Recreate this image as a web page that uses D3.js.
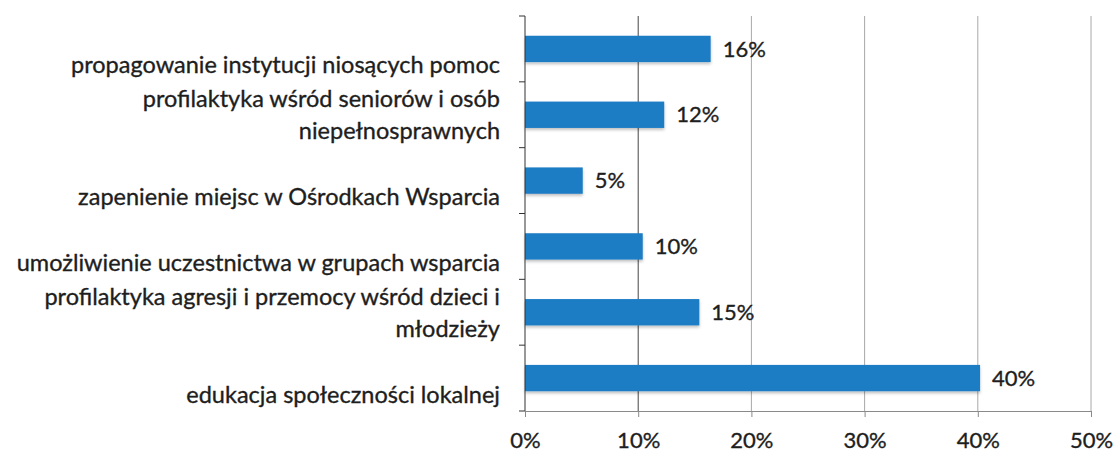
<!DOCTYPE html>
<html>
<head>
<meta charset="utf-8">
<script src="https://cdn.jsdelivr.net/npm/d3@7"></script>
<style>
  html, body { margin: 0; padding: 0; background: #fff; }
  svg { display: block; }
  text { font-family: Lato, "Open Sans", sans-serif; fill: #1e1e1e; stroke: #1e1e1e; stroke-width: 0.35px; }
</style>
</head>
<body>
<svg id="chart" width="1117" height="453"></svg>
<script>
// ---- data ----
const categories = [
  ["", "propagowanie instytucji niosących pomoc"],
  ["profilaktyka wśród seniorów i osób", "niepełnosprawnych"],
  ["", "zapenienie miejsc w Ośrodkach Wsparcia"],
  ["", "umożliwienie uczestnictwa w grupach wsparcia"],
  ["profilaktyka agresji i przemocy wśród dzieci i", "młodzieży"],
  ["", "edukacja społeczności lokalnej"]
];
const values = [16.4, 12.3, 5.1, 10.4, 15.4, 40.2];
const valueLabels = ["16%", "12%", "5%", "10%", "15%", "40%"];
const xTicks = [0, 10, 20, 30, 40, 50];
const xTickLabels = ["0%", "10%", "20%", "30%", "40%", "50%"];

// ---- layout ----
const W = 1117, H = 453;
const margin = { left: 525, right: 26, top: 16, bottom: 42 };
const innerW = W - margin.left - margin.right;
const innerH = H - margin.top - margin.bottom;

const svg = d3.select("#chart");
const g = svg.append("g").attr("transform", `translate(${margin.left},${margin.top})`);

const x = d3.scaleLinear().domain([0, 50]).range([0, innerW]);
const idx = categories.map((d, i) => i);
const y = d3.scaleBand().domain(idx).range([0, innerH]).paddingInner(0.6).paddingOuter(0.3);
const yTicks = d3.scaleLinear().domain([0, categories.length]).range([0, innerH]);

const defs = svg.append("defs");
const f = defs.append("filter").attr("id", "shadow").attr("x", "-5%").attr("y", "-30%").attr("width", "110%").attr("height", "170%");
f.append("feDropShadow").attr("dx", 0).attr("dy", 2).attr("stdDeviation", 1.5).attr("flood-color", "#000").attr("flood-opacity", 0.25);

// gridlines
g.append("g").selectAll("line").data(xTicks.slice(1)).join("line")
  .attr("x1", d => x(d)).attr("x2", d => x(d))
  .attr("y1", 0).attr("y2", innerH)
  .attr("stroke", d => d === 10 ? "#444" : "#a8a8a8")
  .attr("stroke-width", 1);

// x axis
const xAxis = g.append("g").attr("transform", `translate(0,${innerH})`)
  .call(d3.axisBottom(x).tickValues(xTicks).tickFormat((d, i) => xTickLabels[i]).tickSize(6).tickPadding(15));
xAxis.select(".domain").attr("stroke", "#8a8a8a");
xAxis.selectAll(".tick line").attr("stroke", "#8a8a8a");
xAxis.selectAll(".tick text").style("font-size", "22px").style("font-family", "Lato, sans-serif").attr("fill", "#1e1e1e");

// bars
g.append("g").selectAll("rect").data(values).join("rect")
  .attr("x", 0)
  .attr("y", (d, i) => y(i))
  .attr("width", d => x(d))
  .attr("height", y.bandwidth())
  .attr("fill", "#1b7bc4")
  .attr("filter", "url(#shadow)");

// y axis line + ticks
const yAxisG = g.append("g");
yAxisG.append("line").attr("x1", 0).attr("x2", 0).attr("y1", 0).attr("y2", innerH).attr("stroke", "#333");
yAxisG.selectAll("line.tk").data(d3.range(categories.length + 1)).join("line")
  .attr("class", "tk")
  .attr("x1", -6).attr("x2", 0)
  .attr("y1", d => yTicks(d)).attr("y2", d => yTicks(d))
  .attr("stroke", "#333");

// category labels
const lineH = 32;
const lab = g.append("g").selectAll("text").data(categories).join("text")
  .attr("text-anchor", "end")
  .style("font-size", "23.5px")
  .attr("x", -25)
  .attr("y", (d, i) => y(i) + y.bandwidth() / 2);
lab.each(function(lines, i) {
  const t = d3.select(this);
  const c = y(i) + y.bandwidth() / 2 + 1;
  lines.forEach((ln, k) => {
    if (!ln) return;
    t.append("tspan").attr("x", -25)
      .attr("y", c + (k - (lines.length - 1) / 2) * lineH)
      .attr("dy", "0.32em")
      .text(ln);
  });
});

// value labels
g.append("g").selectAll("text").data(values).join("text")
  .attr("x", d => x(d) + 12)
  .attr("y", (d, i) => y(i) + y.bandwidth() / 2)
  .attr("dy", "0.35em")
  .style("font-size", "22px")
  .text((d, i) => valueLabels[i]);
</script>
</body>
</html>
